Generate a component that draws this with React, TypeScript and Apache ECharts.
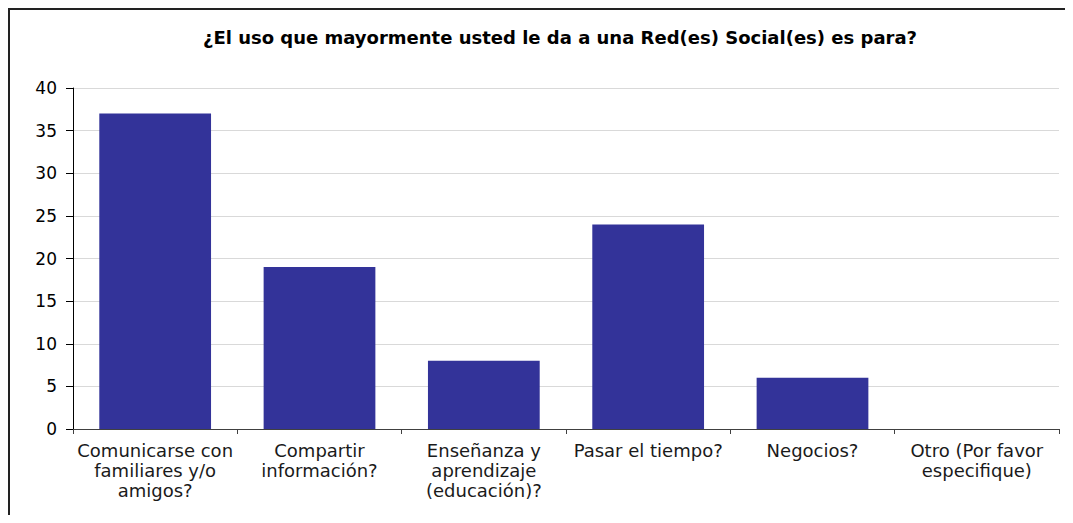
import React, { useEffect, useRef } from "react";
import * as echarts from "echarts";

const TITLE = "¿El uso que mayormente usted le da a una Red(es) Social(es) es para?";
const categories = [
  "Comunicarse con\nfamiliares y/o\namigos?",
  "Compartir\ninformación?",
  "Enseñanza y\naprendizaje\n(educación)?",
  "Pasar el tiempo?",
  "Negocios?",
  "Otro (Por favor\nespecifique)",
];
const values = [37, 19, 8, 24, 6, 0];
const yMin = 0;
const yMax = 40;
const yInterval = 5;

const FONT = "'DejaVu Sans', Verdana, sans-serif";

export default function App() {
  const ref = useRef<HTMLDivElement>(null);
  useEffect(() => {
    if (!ref.current) return;
    const chart = echarts.init(ref.current, null, { renderer: "svg" });
    chart.setOption({
      animation: false,
      backgroundColor: "#ffffff",
      title: {
        text: TITLE,
        left: 545,
        top: 13,
        textAlign: "center",
        textStyle: { fontFamily: FONT, fontSize: 18, fontWeight: "bold", color: "#000" },
      },
      grid: { left: 63, right: 14, top: 78, bottom: 86, containLabel: false },
      xAxis: {
        type: "category",
        data: categories,
        axisLine: { show: true, lineStyle: { color: "#404040", width: 1 } },
        axisTick: { show: true, length: 5, alignWithLabel: false, lineStyle: { color: "#404040" } },
        axisLabel: {
          interval: 0,
          margin: 11,
          lineHeight: 20,
          fontFamily: FONT,
          fontSize: 18,
          color: "#1a1a1a",
          align: "center",
        },
      },
      yAxis: {
        type: "value",
        min: yMin,
        max: yMax,
        interval: yInterval,
        axisLine: { show: true, lineStyle: { color: "#000", width: 1 } },
        axisTick: { show: true, length: 7, lineStyle: { color: "#000" } },
        axisLabel: { fontFamily: FONT, fontSize: 17, color: "#000", margin: 16 },
        splitLine: { show: true, lineStyle: { color: "#d9d9d9", width: 1 } },
      },
      series: [
        {
          type: "bar",
          data: values,
          barCategoryGap: "32%",
          itemStyle: { color: "#333399" },
        },
      ],
    });
    return () => chart.dispose();
  }, []);
  return (
    <div
      ref={ref}
      style={{
        width: 1063,
        height: 505,
        borderTop: "2px solid #222",
        borderLeft: "2px solid #222",
      }}
    />
  );
}
